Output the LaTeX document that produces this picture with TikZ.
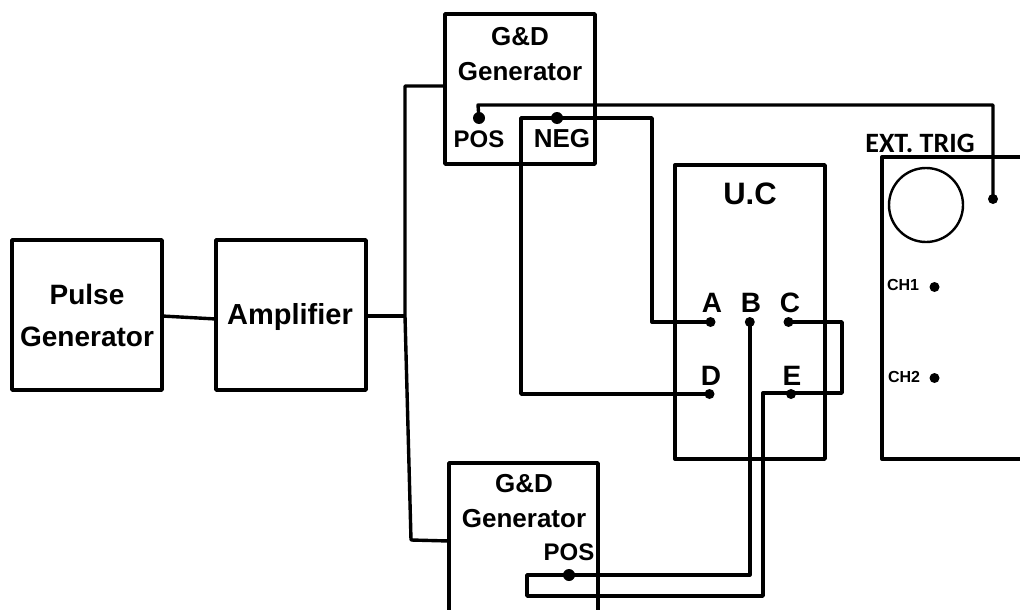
\documentclass[tikz,border=0pt]{standalone}
\usepackage{fontspec}
\setmainfont{Liberation Sans}
\newfontfamily\trigfont{Carlito}
\tikzset{
    blockbox/.style={draw, line width=3.4pt, line join=round, minimum width=#1, outer sep=0pt, inner sep=0pt},
    wire/.style={line width=3.4pt, line join=round},
    dotbig/.style={circle, fill, inner sep=0pt, minimum size=12pt},
    dotsmall/.style={circle, fill, inner sep=0pt, minimum size=10pt},
    txtbig/.style={font=\fontsize{28}{42}\selectfont\bfseries, align=center, inner sep=0pt},
    txtmid/.style={font=\fontsize{26}{35}\selectfont\bfseries, align=center, inner sep=0pt},
    txtport/.style={font=\fontsize{24}{28}\selectfont\bfseries, inner sep=0pt},
    txtpin/.style={font=\fontsize{28}{30}\selectfont\bfseries, inner sep=0pt},
    txtch/.style={font=\fontsize{16}{18}\selectfont\bfseries, inner sep=0pt}
}
\begin{document}
\begin{tikzpicture}[x=1pt, y=-1pt]
    \clip (0,0) rectangle (1020,610);
    % blocks
    \node[blockbox=150pt, minimum height=150pt] (pulse) at (87,315) {};
    \node[blockbox=150pt, minimum height=150pt] (amp) at (291,315) {};
    \node[blockbox=150pt, minimum height=150pt] (gdtop) at (520,89) {};
    \node[blockbox=150pt, minimum height=294pt] (uc) at (750,312) {};
    \node[blockbox=300pt, minimum height=302pt] (scope) at (1032,308) {};
    \node[blockbox=149pt, minimum height=300pt] (gdbot) at (523.5,613) {};
    \node[draw, circle, line width=2.4pt, minimum size=74pt, inner sep=0pt] (screen) at (926,205) {};

    % labels
    \node[txtbig] (pulsetxt) at (87,315) {Pulse\\Generator};
    \node[txtbig, font=\fontsize{29}{33}\selectfont\bfseries] (amptxt) at (290,317) {Amplifier};
    \node[txtmid] (gdtoptxt) at (520,54) {G\&D\\Generator};
    \node[txtmid] (gdbottxt) at (524,501) {G\&D\\Generator};
    \node[txtport] (postop) at (479,139) {POS};
    \node[txtport, font=\fontsize{26}{28}\selectfont\bfseries] (negtop) at (562,139) {NEG};
    \node[txtport] (posbot) at (569,552) {POS};
    \node[txtbig, font=\fontsize{31}{33}\selectfont\bfseries] (uctxt) at (750,194) {U.C};
    \node[txtpin] (lbla) at (712,303) {A};
    \node[txtpin] (lblb) at (751,303) {B};
    \node[txtpin] (lblc) at (790,303) {C};
    \node[txtpin] (lbld) at (711,376) {D};
    \node[txtpin] (lble) at (792,376) {E};
    \node[font=\fontsize{28}{30}\trigfont\bfseries, inner sep=0pt] (trig) at (920,143) {EXT. TRIG};
    \node[txtch] (chone) at (903,285) {CH1};
    \node[txtch] (chtwo) at (904,377) {CH2};

    % terminals
    \node[dotbig] (tpos) at (479,118) {};
    \node[dotbig] (tneg) at (557,118) {};
    \node[dotbig] (bpos) at (569,575) {};
    \node[dotbig, minimum size=10pt] (ttrig) at (993,199) {};
    \node[dotsmall] (ta) at (710.5,322) {};
    \node[dotsmall] (tb) at (749.8,322) {};
    \node[dotsmall] (tc) at (788.5,322) {};
    \node[dotsmall] (td) at (709.5,394) {};
    \node[dotsmall] (te) at (791,394) {};
    \node[dotsmall] (tch1) at (934.5,287) {};
    \node[dotsmall] (tch2) at (934.5,378) {};

    % bends
    \coordinate (split) at (405,316);
    \coordinate (gdin) at (445,86);
    \coordinate (gdbin) at (449,541);
    \coordinate (trunkt) at (405,86);
    \coordinate (trunkb) at (411,540);
    \coordinate (trigtop) at (478,105);
    \coordinate (negleft) at (521,118);
    \coordinate (negright) at (652,118);
    \coordinate (jump) at (842,322);
    \coordinate (ejog) at (763,393);
    \coordinate (botr) at (763,596);
    \coordinate (botl) at (527,596);
    \coordinate (botu) at (527,575);

    % wires
    \draw[wire] (162,316) -- (216,319);
    \draw[wire] (366,316) -- (split);
    \draw[wire] (gdin) -- (trunkt) -- (split) -- (trunkb) -- (gdbin);
    \draw[wire] (tpos.center) -- (trigtop) -| (ttrig.center);
    \draw[wire] (tneg.center) -- (negright) |- (ta.center);
    \draw[wire] (tneg.center) -- (negleft) |- (td.center);
    \draw[wire] (tc.center) -- (jump) |- (ejog) -- (botr) -- (botl) -- (botu) -- (bpos.center);
    \draw[wire] (bpos.center) -| (tb.center);
\end{tikzpicture}
\end{document}
